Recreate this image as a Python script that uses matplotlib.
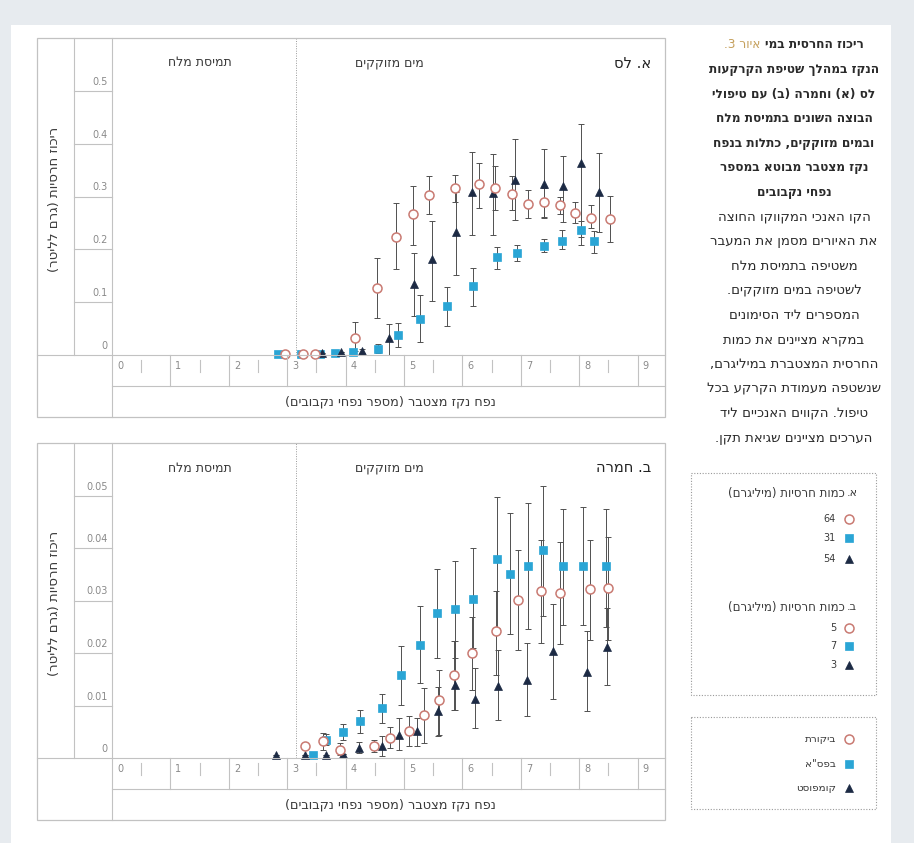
import numpy as np
import matplotlib.pyplot as plt
from matplotlib.lines import Line2D
from matplotlib.patches import Rectangle
from matplotlib.transforms import Affine2D, blended_transform_factory

plt.rcParams['font.family'] = ['DejaVu Sans']

# ---- data: x = pore volumes, y = clay conc (g/L) ----
# panel A (loess)
a_ctrl_x = [2.96, 3.27, 3.47, 4.16, 4.53, 4.86, 5.15, 5.43, 5.87, 6.28, 6.56, 6.85, 7.12, 7.40, 7.67, 7.93, 8.20, 8.53]
a_ctrl_y = [0.002, 0.002, 0.002, 0.032, 0.127, 0.223, 0.267, 0.303, 0.316, 0.324, 0.316, 0.305, 0.286, 0.290, 0.284, 0.268, 0.260, 0.257]
a_ctrl_lo = [0.002, 0.002, 0.002, 0.008, 0.070, 0.163, 0.208, 0.267, 0.290, 0.278, 0.275, 0.275, 0.260, 0.262, 0.266, 0.250, 0.240, 0.214]
a_ctrl_hi = [0.002, 0.002, 0.002, 0.062, 0.184, 0.288, 0.320, 0.338, 0.340, 0.364, 0.357, 0.338, 0.313, 0.316, 0.300, 0.290, 0.284, 0.301]

a_bio_x = [2.84, 3.23, 3.56, 3.82, 4.13, 4.56, 4.90, 5.28, 5.74, 6.18, 6.59, 6.93, 7.40, 7.70, 8.03, 8.26]
a_bio_y = [0.002, 0.002, 0.002, 0.004, 0.005, 0.012, 0.038, 0.069, 0.092, 0.131, 0.185, 0.194, 0.207, 0.216, 0.237, 0.215]
a_bio_lo = [0.002, 0.002, 0.002, 0.004, 0.003, 0.004, 0.016, 0.025, 0.054, 0.093, 0.163, 0.177, 0.195, 0.200, 0.209, 0.194]
a_bio_hi = [0.002, 0.002, 0.002, 0.004, 0.007, 0.020, 0.060, 0.114, 0.129, 0.165, 0.205, 0.209, 0.220, 0.236, 0.253, 0.234]

a_comp_x = [3.59, 3.93, 4.28, 4.74, 5.17, 5.48, 5.89, 6.17, 6.52, 6.90, 7.39, 7.73, 8.03, 8.34]
a_comp_y = [0.004, 0.005, 0.008, 0.033, 0.134, 0.181, 0.232, 0.308, 0.306, 0.331, 0.323, 0.319, 0.363, 0.309]
a_comp_lo = [0.004, 0.005, 0.004, 0.000, 0.073, 0.103, 0.152, 0.227, 0.227, 0.256, 0.260, 0.252, 0.224, 0.233]
a_comp_hi = [0.004, 0.005, 0.012, 0.058, 0.194, 0.254, 0.309, 0.385, 0.380, 0.408, 0.390, 0.377, 0.437, 0.382]

# panel B (hamra)
b_ctrl_x = [3.31, 3.61, 3.91, 4.49, 4.76, 5.08, 5.35, 5.60, 5.85, 6.17, 6.57, 6.96, 7.35, 7.68, 8.19, 8.49]
b_ctrl_y = [0.0022, 0.0032, 0.0016, 0.0023, 0.0039, 0.0051, 0.0082, 0.0111, 0.0158, 0.0200, 0.0241, 0.0301, 0.0319, 0.0314, 0.0321, 0.0324]
b_ctrl_lo = [0.0022, 0.0015, 0.0005, 0.0012, 0.0020, 0.0022, 0.0029, 0.0044, 0.0092, 0.0130, 0.0158, 0.0206, 0.0219, 0.0218, 0.0225, 0.0225]
b_ctrl_hi = [0.0022, 0.0047, 0.0028, 0.0035, 0.0060, 0.0080, 0.0133, 0.0168, 0.0223, 0.0269, 0.0319, 0.0396, 0.0416, 0.0412, 0.0415, 0.0421]

b_bio_x = [3.45, 3.67, 3.96, 4.25, 4.62, 4.95, 5.28, 5.56, 5.88, 6.19, 6.59, 6.81, 7.13, 7.38, 7.72, 8.06, 8.46]
b_bio_y = [0.0006, 0.0035, 0.0050, 0.0070, 0.0095, 0.0158, 0.0215, 0.0276, 0.0283, 0.0302, 0.0379, 0.0350, 0.0366, 0.0396, 0.0366, 0.0366, 0.0366]
b_bio_lo = [0.0006, 0.0025, 0.0035, 0.0048, 0.0067, 0.0101, 0.0143, 0.0190, 0.0190, 0.0210, 0.0247, 0.0236, 0.0245, 0.0270, 0.0253, 0.0253, 0.0250]
b_bio_hi = [0.0006, 0.0045, 0.0065, 0.0092, 0.0122, 0.0214, 0.0290, 0.0360, 0.0376, 0.0400, 0.0497, 0.0467, 0.0486, 0.0518, 0.0475, 0.0478, 0.0475]

b_comp_x = [2.81, 3.31, 3.67, 3.95, 4.23, 4.62, 4.91, 5.23, 5.59, 5.88, 6.21, 6.61, 7.10, 7.55, 8.13, 8.47]
b_comp_y = [0.0006, 0.0006, 0.0006, 0.0008, 0.0019, 0.0023, 0.0044, 0.0052, 0.0089, 0.0139, 0.0112, 0.0138, 0.0148, 0.0203, 0.0163, 0.0212]
b_comp_lo = [0.0006, 0.0006, 0.0006, 0.0008, 0.0010, 0.0004, 0.0016, 0.0022, 0.0041, 0.0092, 0.0057, 0.0072, 0.0080, 0.0112, 0.0089, 0.0139]
b_comp_hi = [0.0006, 0.0006, 0.0006, 0.0008, 0.0030, 0.0041, 0.0076, 0.0076, 0.0136, 0.0222, 0.0171, 0.0206, 0.0220, 0.0293, 0.0241, 0.0285]

a_yticks = [0, 0.1, 0.2, 0.3, 0.4, 0.5]
a_ylabels = ['0', '0.1', '0.2', '0.3', '0.4', '0.5']
b_yticks = [0, 0.01, 0.02, 0.03, 0.04, 0.05]
b_ylabels = ['0', '0.01', '0.02', '0.03', '0.04', '0.05']
xticks = list(range(10))
switch_x = 3.15

a_amounts = ['64', '31', '54']
b_amounts = ['5', '7', '3']
treat_names = ['ביקורת', 'בפס"א', 'קומפוסט']

caption_head = 'איור 3.'
caption_lines = [
    'ריכוז החרסית במי',
    'הנקז במהלך שטיפת הקרקעות',
    'לס (א) וחמרה (ב) עם טיפולי',
    'הבוצה השונים בתמיסת מלח',
    'ובמים מזוקקים, כתלות בנפח',
    'נקז מצטבר מבוטא במספר',
    'נפחי נקבובים',
    'הקו האנכי המקווקו החוצה',
    'את האיורים מסמן את המעבר',
    'משטיפה בתמיסת מלח',
    'לשטיפה במים מזוקקים.',
    'המספרים ליד הסימונים',
    'במקרא מציינים את כמות',
    'החרסית המצטברת במיליגרם,',
    'שנשטפה מעמודת הקרקע בכל',
    'טיפול. הקווים האנכיים ליד',
    'הערכים מציינים שגיאת תקן.',
]


def heb(s):
    # no bidi in matplotlib: put hebrew in visual order, mirror brackets
    return s[::-1].translate(str.maketrans('()', ')('))


W, H = 914, 843
fig = plt.figure(figsize=(W / 100, H / 100), dpi=100, facecolor='#e7ebef')
pix = Affine2D().scale(1 / W, -1 / H).translate(0, 1) + fig.transFigure

LC = '#c2c2c2'
ECOL = '#505050'
C_CTRL = '#c97a72'
C_BIO = '#2aa5d5'
C_COMP = '#1c2a44'
TXT = '#3a3a3a'

fig.add_artist(Rectangle((11, 25), 880, 830, transform=pix, facecolor='white',
                         edgecolor='none', zorder=-10))


def line(xs, ys, tr=pix, **kw):
    kw.setdefault('color', LC)
    kw.setdefault('lw', 0.8)
    fig.add_artist(Line2D(xs, ys, transform=tr, **kw))


styles = {
    'ctrl': dict(marker='o', ms=6.5, mfc='white', mec=C_CTRL, mew=1.1),
    'bio': dict(marker='s', ms=6, mfc=C_BIO, mec=C_BIO, mew=0.5),
    'comp': dict(marker='^', ms=6, mfc=C_COMP, mec=C_COMP, mew=0.5),
}


def panel(top, yax, ymax, yticks, ylabels, title, series):
    bot = yax + 62
    ax = fig.add_axes([112 / W, 1 - yax / H, (665 - 112) / W, (yax - top) / H])
    ax.set_xlim(0, 9.47)
    ax.set_ylim(0, ymax)
    ax.axis('off')

    # table frame
    fig.add_artist(Rectangle((37, top), 628, bot - top, transform=pix,
                             facecolor='none', edgecolor=LC, lw=0.9))
    line([74, 74], [top, yax])
    line([37, 665], [yax, yax])
    line([112, 112], [top, bot])
    line([112, 665], [yax + 31, yax + 31])

    # y ticks as table rows
    ty = blended_transform_factory(pix, ax.transData)
    for v in yticks[1:]:
        line([74, 112], [v, v], tr=ty)
    for v, lab in zip(yticks, ylabels):
        fig.text(108, v, lab, transform=ty + Affine2D().translate(0, 4),
                 ha='right', va='bottom', fontsize=7, color='#8a8a8a')

    # x ticks as table cells
    tx = blended_transform_factory(ax.transData, pix)
    for k in xticks[1:]:
        line([k, k], [yax, yax + 31], tr=tx)
    for k in xticks[:-1]:
        line([k + 0.5, k + 0.5], [yax + 5, yax + 17], tr=tx)
    for k in xticks:
        fig.text(k, yax + 11, str(k), transform=tx + Affine2D().translate(5, 0),
                 ha='left', va='center', fontsize=7, color='#8a8a8a')

    ax.axvline(switch_x, color='#9a9a9a', lw=0.7, ls=(0, (1, 1.5)))

    fig.text(1.5, top + 25, heb('תמיסת מלח'), transform=tx, ha='center',
             va='center', fontsize=9, color=TXT)
    fig.text(4.75, top + 25, heb('מים מזוקקים'), transform=tx, ha='center',
             va='center', fontsize=9, color=TXT)
    fig.text(651, top + 25, heb(title), transform=pix, ha='right',
             va='center', fontsize=10.5, color='#222222')
    fig.text(55, (top + yax) / 2 + 3, heb('ריכוז חרסיות (גרם לליטר)'), transform=pix,
             rotation=90, ha='center', va='center', fontsize=9.5, color=TXT)
    fig.text(390, yax + 47, heb('נפח נקז מצטבר (מספר נפחי נקבובים)'), transform=pix,
             ha='center', va='center', fontsize=9.3, color=TXT)

    for x, y, lo, hi, key in series:
        x = np.array(x)
        y = np.array(y)
        err = [y - np.array(lo), np.array(hi) - y]
        ax.errorbar(x, y, yerr=err, fmt='none', ecolor=ECOL, elinewidth=0.7,
                    capsize=2, capthick=0.7, zorder=2, clip_on=False)
    for x, y, lo, hi, key in series:
        ax.plot(x, y, ls='none', zorder=3, clip_on=False, **styles[key])
    return ax


panel(38, 355, 0.6, a_yticks, a_ylabels, 'א. לס', [
    (a_bio_x, a_bio_y, a_bio_lo, a_bio_hi, 'bio'),
    (a_comp_x, a_comp_y, a_comp_lo, a_comp_hi, 'comp'),
    (a_ctrl_x, a_ctrl_y, a_ctrl_lo, a_ctrl_hi, 'ctrl'),
])
panel(443, 758, 0.06, b_yticks, b_ylabels, 'ב. חמרה', [
    (b_bio_x, b_bio_y, b_bio_lo, b_bio_hi, 'bio'),
    (b_comp_x, b_comp_y, b_comp_lo, b_comp_hi, 'comp'),
    (b_ctrl_x, b_ctrl_y, b_ctrl_lo, b_ctrl_hi, 'ctrl'),
])

# caption on the right, centred lines; the coloured figure number sits at the
# left end of the first line as in the source layout
renderer = fig.canvas.get_renderer()
CX = 794
head = fig.text(0, 45, heb(caption_head), transform=pix, ha='left', va='center',
                fontsize=8.7, color='#c5a05c')
rest = fig.text(0, 45, heb(caption_lines[0]), transform=pix, ha='left', va='center',
                fontsize=8.7, color='#2a2a2a', fontweight='bold')
hw = head.get_window_extent(renderer).width
rw = rest.get_window_extent(renderer).width
total = hw + 5 + rw
head.set_x(CX - total / 2)
rest.set_x(CX - total / 2 + hw + 5)
for i, s in enumerate(caption_lines[1:], start=1):
    bold = i < 7
    fig.text(CX, 45 + i * 24.6, heb(s), transform=pix, ha='center', va='center',
             fontsize=8.7 if bold else 9.5, color='#2a2a2a',
             fontweight='bold' if bold else 'normal')

# legend boxes
for (y0, h) in [(473, 222), (717, 92)]:
    fig.add_artist(Rectangle((691, y0), 185, h, transform=pix, facecolor='none',
                             edgecolor='#9a9a9a', lw=0.8, ls=(0, (1, 1.5))))

keys = ['ctrl', 'bio', 'comp']
for letter, y_head, amounts, ys in [('א.', 493, a_amounts, [519, 538, 559]),
                                    ('ב.', 607, b_amounts, [628, 646, 665])]:
    fig.text(852, y_head, heb(letter), transform=pix, ha='center', va='center',
             fontsize=8, color=TXT)
    fig.text(845, y_head, heb('כמות חרסיות (מיליגרם)'), transform=pix, ha='right',
             va='center', fontsize=8.5, color=TXT)
    for key, amt, yy in zip(keys, amounts, ys):
        fig.add_artist(Line2D([849], [yy], transform=pix, ls='none', **styles[key]))
        fig.text(836, yy, amt, transform=pix, ha='right', va='center',
                 fontsize=7, color=TXT)

for key, name, yy in zip(keys, treat_names, [739, 764, 788]):
    fig.add_artist(Line2D([849], [yy], transform=pix, ls='none', **styles[key]))
    fig.text(836, yy, heb(name), transform=pix, ha='right', va='center',
             fontsize=7.5, color=TXT)

fig.savefig('out.png', dpi=100, facecolor=fig.get_facecolor())
